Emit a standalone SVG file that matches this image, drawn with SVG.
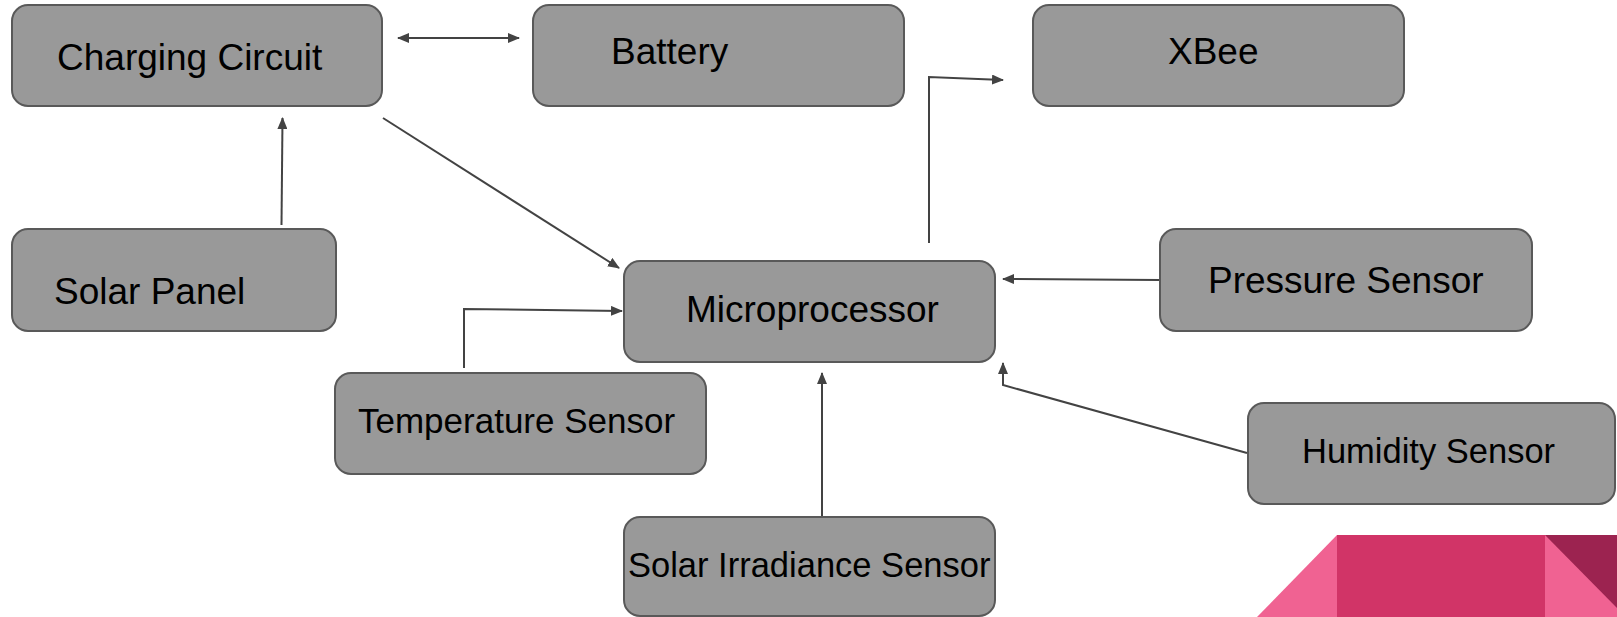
<svg xmlns="http://www.w3.org/2000/svg" width="1617" height="617" viewBox="0 0 1617 617">
<style>
.box{fill:#999999;stroke:#595959;stroke-width:2}
.lbl{font-family:"Liberation Sans",Arial,sans-serif;font-size:37px;fill:#000000}
.sm{font-size:34.5px}
.con{fill:none;stroke:#434343;stroke-width:2}
</style>
<defs>
<marker id="ah" markerUnits="userSpaceOnUse" markerWidth="12" markerHeight="10" refX="11" refY="5" orient="auto-start-reverse" viewBox="0 0 12 10">
<path d="M0,0 L12,5 L0,10 z" fill="#434343"/>
</marker>
</defs>
<rect width="1617" height="617" fill="#ffffff"/>
<g id="deco">
<polygon points="1257,617 1337,535 1337,617" fill="#F06292"/>
<rect x="1337" y="535" width="208" height="82" fill="#D13467"/>
<rect x="1545" y="535" width="72" height="82" fill="#F06292"/>
<polygon points="1545,535 1617,535 1617,608" fill="#9C2350"/>
</g>
<g id="connectors">
<line class="con" x1="398" y1="38" x2="519" y2="38" marker-start="url(#ah)" marker-end="url(#ah)"/>
<line class="con" x1="281.5" y1="225" x2="282.5" y2="118" marker-end="url(#ah)"/>
<line class="con" x1="383" y1="118" x2="619" y2="268" marker-end="url(#ah)"/>
<polyline class="con" points="464,368 464,309 622,311" marker-end="url(#ah)"/>
<line class="con" x1="822" y1="525" x2="822" y2="373" marker-end="url(#ah)"/>
<line class="con" x1="1160" y1="280" x2="1003" y2="279" marker-end="url(#ah)"/>
<polyline class="con" points="1247,453 1003,385 1003,363" marker-end="url(#ah)"/>
<polyline class="con" points="929,243 929,77 1003,80" marker-end="url(#ah)"/>
</g>
<g id="charging-circuit">
<rect class="box" x="12" y="5" width="370" height="101" rx="16"/>
<text class="lbl" x="57" y="70">Charging Circuit</text>
</g>
<g id="battery">
<rect class="box" x="533" y="5" width="371" height="101" rx="16"/>
<text class="lbl" x="611" y="64">Battery</text>
</g>
<g id="xbee">
<rect class="box" x="1033" y="5" width="371" height="101" rx="16"/>
<text class="lbl" x="1168" y="64">XBee</text>
</g>
<g id="solar-panel">
<rect class="box" x="12" y="229" width="324" height="102" rx="16"/>
<text class="lbl" x="54" y="304">Solar Panel</text>
</g>
<g id="microprocessor">
<rect class="box" x="624" y="261" width="371" height="101" rx="16"/>
<text class="lbl" x="686" y="322">Microprocessor</text>
</g>
<g id="pressure-sensor">
<rect class="box" x="1160" y="229" width="372" height="102" rx="16"/>
<text class="lbl" x="1208" y="293">Pressure Sensor</text>
</g>
<g id="temperature-sensor">
<rect class="box" x="335" y="373" width="371" height="101" rx="16"/>
<text class="lbl" style="font-size:35px" x="358" y="433">Temperature Sensor</text>
</g>
<g id="humidity-sensor">
<rect class="box" x="1248" y="403" width="367" height="101" rx="16"/>
<text class="lbl sm" x="1302" y="463">Humidity Sensor</text>
</g>
<g id="solar-irradiance-sensor">
<rect class="box" x="624" y="517" width="371" height="99" rx="16"/>
<text class="lbl sm" x="628" y="577">Solar Irradiance Sensor</text>
</g>
</svg>
